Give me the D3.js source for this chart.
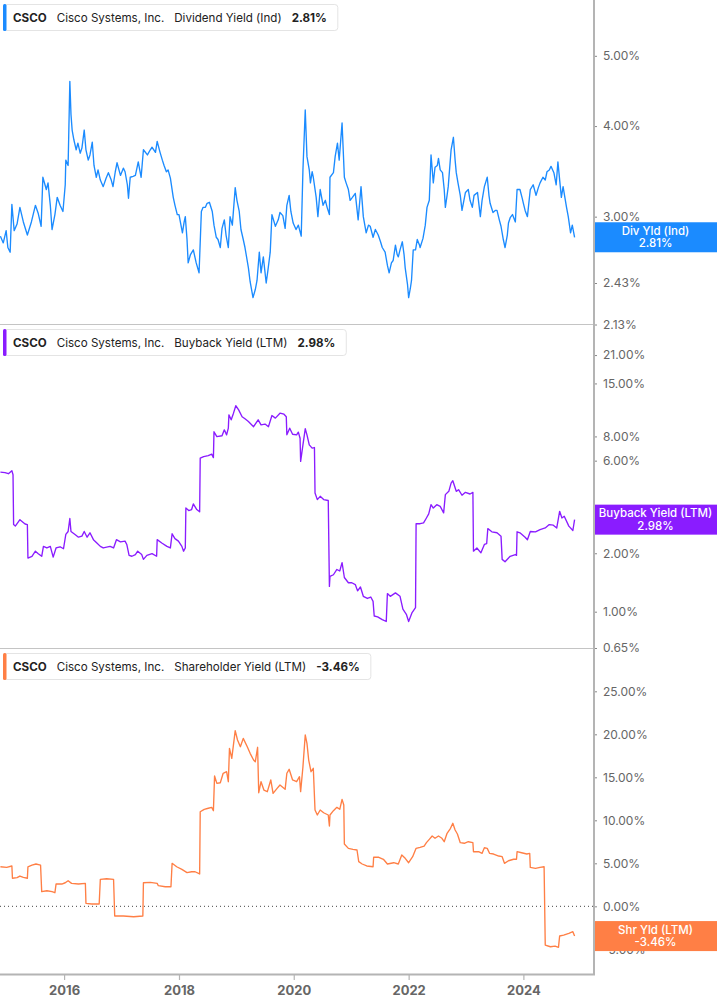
<!DOCTYPE html>
<html>
<head>
<meta charset="utf-8">
<script src="https://cdn.jsdelivr.net/npm/d3@7"></script>
<style>
  body { margin: 0; background: #fff; }
  svg { display: block; font-family: Inter, "Noto Sans", sans-serif; }
</style>
</head>
<body>
<div id="chart"></div>
<script>
const width = 717;
const height = 1005;
const axisX = 594;

// x domain in decimal years
const xStart = 2014.883;
const xEnd = 2025.228;
const yearTicks = [2016, 2018, 2020, 2022, 2024];

// [decimal year, dividend yield %]
const divYield = [
  [2014.89, 2.82], [2014.94, 2.76], [2014.99, 2.87], [2015.02, 2.72], [2015.06, 2.68], [2015.09, 3.12],
  [2015.13, 2.87], [2015.18, 2.93], [2015.23, 3.09], [2015.29, 2.95], [2015.36, 2.83], [2015.43, 2.95],
  [2015.50, 3.11], [2015.55, 3.03], [2015.60, 2.91], [2015.63, 3.40], [2015.69, 3.27], [2015.72, 3.34],
  [2015.76, 3.11], [2015.79, 2.88], [2015.84, 3.02], [2015.88, 3.19], [2015.93, 3.11], [2015.98, 3.05],
  [2016.02, 3.32], [2016.03, 3.59], [2016.07, 3.53], [2016.10, 4.61], [2016.12, 4.15], [2016.14, 3.95],
  [2016.17, 3.83], [2016.21, 3.71], [2016.24, 3.79], [2016.28, 3.67], [2016.31, 3.73], [2016.35, 3.95],
  [2016.38, 3.71], [2016.42, 3.59], [2016.45, 3.65], [2016.49, 3.80], [2016.52, 3.53], [2016.56, 3.40],
  [2016.59, 3.48], [2016.63, 3.37], [2016.68, 3.30], [2016.73, 3.39], [2016.77, 3.45], [2016.82, 3.37],
  [2016.85, 3.30], [2016.89, 3.46], [2016.92, 3.56], [2016.98, 3.42], [2017.03, 3.50], [2017.06, 3.46],
  [2017.10, 3.32], [2017.12, 3.18], [2017.15, 3.40], [2017.20, 3.41], [2017.24, 3.42], [2017.29, 3.57],
  [2017.34, 3.40], [2017.38, 3.71], [2017.45, 3.65], [2017.50, 3.71], [2017.53, 3.74], [2017.59, 3.68],
  [2017.62, 3.81], [2017.67, 3.68], [2017.71, 3.59], [2017.74, 3.53], [2017.78, 3.46], [2017.81, 3.48],
  [2017.85, 3.39], [2017.90, 3.19], [2017.93, 3.11], [2017.97, 3.02], [2018.00, 3.02], [2018.06, 2.85],
  [2018.09, 2.95], [2018.11, 3.00], [2018.14, 2.79], [2018.16, 2.59], [2018.20, 2.66], [2018.25, 2.70],
  [2018.30, 2.59], [2018.35, 2.51], [2018.39, 3.05], [2018.42, 3.09], [2018.46, 3.09], [2018.49, 3.13],
  [2018.53, 3.14], [2018.58, 3.05], [2018.61, 2.92], [2018.65, 2.81], [2018.68, 2.79], [2018.72, 2.72],
  [2018.75, 2.89], [2018.79, 2.97], [2018.82, 2.83], [2018.86, 2.72], [2018.89, 3.00], [2018.93, 2.92],
  [2018.98, 3.29], [2019.01, 3.16], [2019.05, 3.05], [2019.08, 2.88], [2019.12, 2.79], [2019.15, 2.72],
  [2019.21, 2.55], [2019.24, 2.44], [2019.29, 2.32], [2019.33, 2.38], [2019.36, 2.45], [2019.40, 2.68],
  [2019.43, 2.51], [2019.47, 2.64], [2019.52, 2.43], [2019.55, 2.53], [2019.59, 2.68], [2019.62, 3.02],
  [2019.68, 2.91], [2019.73, 2.97], [2019.76, 3.04], [2019.81, 3.01], [2019.85, 2.89], [2019.88, 3.11],
  [2019.92, 3.21], [2019.95, 3.05], [2019.99, 2.94], [2020.04, 2.88], [2020.08, 2.92], [2020.13, 2.82],
  [2020.16, 3.48], [2020.20, 4.21], [2020.23, 3.63], [2020.27, 3.48], [2020.29, 3.34], [2020.32, 3.46],
  [2020.34, 3.40], [2020.39, 3.19], [2020.42, 3.00], [2020.46, 3.27], [2020.51, 3.11], [2020.55, 3.16],
  [2020.58, 3.09], [2020.62, 3.02], [2020.63, 3.40], [2020.69, 3.45], [2020.72, 3.63], [2020.76, 3.79],
  [2020.79, 3.59], [2020.84, 4.04], [2020.88, 3.40], [2020.91, 3.34], [2020.95, 3.27], [2020.98, 3.16],
  [2021.02, 3.19], [2021.07, 3.23], [2021.12, 2.97], [2021.17, 3.30], [2021.21, 3.00], [2021.26, 2.85],
  [2021.30, 2.92], [2021.33, 2.91], [2021.38, 2.81], [2021.42, 2.88], [2021.47, 2.83], [2021.51, 2.77],
  [2021.54, 2.72], [2021.59, 2.68], [2021.63, 2.57], [2021.66, 2.51], [2021.70, 2.59], [2021.73, 2.61],
  [2021.77, 2.74], [2021.80, 2.66], [2021.82, 2.64], [2021.85, 2.70], [2021.89, 2.77], [2021.92, 2.66],
  [2021.94, 2.55], [2021.98, 2.42], [2022.00, 2.32], [2022.03, 2.39], [2022.05, 2.45], [2022.08, 2.70],
  [2022.12, 2.70], [2022.15, 2.79], [2022.19, 2.74], [2022.20, 2.72], [2022.25, 2.80], [2022.29, 2.92],
  [2022.32, 3.09], [2022.36, 3.16], [2022.39, 3.65], [2022.43, 3.34], [2022.46, 3.51], [2022.50, 3.53],
  [2022.52, 3.61], [2022.55, 3.48], [2022.59, 3.45], [2022.62, 3.27], [2022.64, 3.09], [2022.67, 3.21],
  [2022.69, 3.30], [2022.74, 3.71], [2022.78, 3.86], [2022.81, 3.59], [2022.83, 3.45], [2022.86, 3.34],
  [2022.90, 3.21], [2022.93, 3.06], [2022.99, 3.24], [2023.04, 3.27], [2023.07, 3.16], [2023.11, 3.09],
  [2023.14, 3.21], [2023.20, 3.24], [2023.25, 3.00], [2023.28, 3.16], [2023.32, 3.30], [2023.37, 3.40],
  [2023.40, 3.21], [2023.42, 3.13], [2023.47, 3.04], [2023.51, 3.06], [2023.54, 3.06], [2023.58, 2.97],
  [2023.61, 2.91], [2023.65, 2.79], [2023.68, 2.72], [2023.72, 2.83], [2023.74, 2.94], [2023.77, 2.99],
  [2023.81, 3.02], [2023.86, 2.95], [2023.89, 3.27], [2023.94, 3.27], [2023.98, 3.18], [2024.00, 3.13],
  [2024.03, 3.06], [2024.07, 3.00], [2024.12, 3.27], [2024.17, 3.32], [2024.22, 3.21], [2024.26, 3.29],
  [2024.29, 3.34], [2024.34, 3.40], [2024.38, 3.37], [2024.41, 3.46], [2024.45, 3.48], [2024.48, 3.52],
  [2024.53, 3.45], [2024.57, 3.32], [2024.60, 3.57], [2024.66, 3.19], [2024.69, 3.30], [2024.75, 3.09],
  [2024.78, 3.00], [2024.82, 2.85], [2024.85, 2.92], [2024.89, 2.81]
];

// [decimal year, buyback yield %]
const buybackYield = [
  [2014.89, 5.24], [2014.97, 5.21], [2015.03, 5.14], [2015.09, 5.33], [2015.11, 5.08], [2015.12, 2.81],
  [2015.15, 2.76], [2015.23, 2.98], [2015.32, 2.83], [2015.36, 2.81], [2015.37, 1.89], [2015.44, 1.93],
  [2015.50, 2.05], [2015.55, 1.99], [2015.61, 1.93], [2015.64, 2.17], [2015.70, 2.13], [2015.76, 2.17],
  [2015.81, 1.91], [2015.86, 2.13], [2015.93, 2.16], [2015.99, 2.11], [2016.03, 2.50], [2016.07, 2.59],
  [2016.10, 3.02], [2016.12, 2.59], [2016.19, 2.50], [2016.25, 2.42], [2016.31, 2.45], [2016.35, 2.59],
  [2016.40, 2.42], [2016.45, 2.55], [2016.51, 2.35], [2016.57, 2.26], [2016.63, 2.17], [2016.68, 2.13],
  [2016.74, 2.15], [2016.80, 2.17], [2016.86, 2.13], [2016.91, 2.35], [2016.98, 2.29], [2017.06, 2.31],
  [2017.09, 2.22], [2017.13, 1.95], [2017.18, 1.93], [2017.24, 1.97], [2017.28, 2.05], [2017.35, 1.97],
  [2017.38, 1.86], [2017.44, 1.95], [2017.53, 1.99], [2017.61, 1.93], [2017.62, 2.35], [2017.70, 2.26],
  [2017.79, 2.17], [2017.85, 2.13], [2017.88, 2.52], [2017.93, 2.38], [2017.99, 2.31], [2018.05, 2.17],
  [2018.08, 2.05], [2018.11, 2.13], [2018.12, 3.42], [2018.17, 3.32], [2018.22, 3.36], [2018.25, 3.59],
  [2018.31, 3.36], [2018.36, 3.27], [2018.37, 6.18], [2018.43, 6.30], [2018.51, 6.37], [2018.57, 6.48],
  [2018.60, 6.22], [2018.61, 8.45], [2018.66, 7.98], [2018.75, 8.06], [2018.79, 8.65], [2018.83, 8.15],
  [2018.86, 8.82], [2018.87, 10.33], [2018.91, 9.74], [2018.95, 10.54], [2018.99, 11.51], [2019.04, 10.96],
  [2019.10, 10.11], [2019.15, 9.86], [2019.21, 9.54], [2019.30, 8.98], [2019.38, 9.74], [2019.43, 9.18],
  [2019.50, 9.26], [2019.56, 8.98], [2019.62, 10.25], [2019.68, 9.94], [2019.76, 10.54], [2019.83, 10.41],
  [2019.87, 10.11], [2019.88, 8.15], [2019.93, 8.82], [2019.98, 8.21], [2020.05, 8.15], [2020.08, 8.42],
  [2020.11, 7.83], [2020.12, 5.95], [2020.16, 7.24], [2020.20, 8.76], [2020.23, 8.15], [2020.27, 7.24],
  [2020.32, 6.96], [2020.36, 7.01], [2020.37, 4.09], [2020.41, 3.78], [2020.46, 3.93], [2020.52, 3.78],
  [2020.60, 3.74], [2020.62, 1.35], [2020.63, 1.52], [2020.69, 1.55], [2020.75, 1.65], [2020.80, 1.62],
  [2020.84, 1.79], [2020.88, 1.50], [2020.95, 1.41], [2021.01, 1.41], [2021.07, 1.38], [2021.11, 1.28],
  [2021.16, 1.34], [2021.21, 1.20], [2021.28, 1.17], [2021.34, 1.19], [2021.38, 1.13], [2021.40, 0.95],
  [2021.46, 0.94], [2021.54, 0.91], [2021.61, 0.89], [2021.63, 1.24], [2021.68, 1.20], [2021.77, 1.25],
  [2021.85, 1.20], [2021.90, 1.03], [2021.96, 0.97], [2022.00, 0.89], [2022.06, 0.99], [2022.12, 1.05],
  [2022.13, 2.84], [2022.20, 2.84], [2022.26, 2.87], [2022.31, 3.04], [2022.35, 3.19], [2022.39, 3.56],
  [2022.43, 3.42], [2022.49, 3.56], [2022.55, 3.49], [2022.61, 3.23], [2022.64, 4.01], [2022.70, 4.17],
  [2022.74, 4.60], [2022.77, 4.73], [2022.83, 4.17], [2022.87, 4.25], [2022.93, 3.98], [2022.99, 4.12],
  [2023.07, 4.04], [2023.12, 4.12], [2023.13, 2.05], [2023.19, 2.13], [2023.26, 2.01], [2023.32, 2.22],
  [2023.36, 2.24], [2023.38, 2.68], [2023.45, 2.58], [2023.54, 2.55], [2023.61, 2.45], [2023.63, 1.86],
  [2023.68, 1.81], [2023.77, 1.93], [2023.86, 1.97], [2023.88, 1.95], [2023.89, 2.58], [2023.94, 2.55],
  [2024.03, 2.42], [2024.07, 2.35], [2024.12, 2.59], [2024.21, 2.58], [2024.29, 2.65], [2024.38, 2.70],
  [2024.45, 2.81], [2024.52, 2.79], [2024.58, 2.70], [2024.63, 3.29], [2024.67, 3.04], [2024.71, 3.10],
  [2024.79, 2.76], [2024.86, 2.62], [2024.89, 2.98]
];

// [decimal year, shareholder yield %]
const shareholderYield = [
  [2014.89, 4.60], [2015.00, 4.53], [2015.09, 4.69], [2015.10, 3.26], [2015.18, 3.33], [2015.23, 3.52],
  [2015.29, 3.37], [2015.36, 3.26], [2015.37, 4.60], [2015.44, 4.80], [2015.51, 4.92], [2015.59, 4.80],
  [2015.61, 1.70], [2015.70, 1.81], [2015.79, 1.70], [2015.84, 1.58], [2015.86, 2.59], [2015.96, 2.59],
  [2016.02, 2.74], [2016.07, 2.98], [2016.13, 2.67], [2016.25, 2.59], [2016.37, 2.67], [2016.38, 0.35],
  [2016.48, 0.27], [2016.61, 0.27], [2016.63, 3.14], [2016.74, 3.21], [2016.86, 3.14], [2016.88, -1.13],
  [2017.03, -1.13], [2017.21, -1.21], [2017.37, -1.13], [2017.38, 2.74], [2017.50, 2.79], [2017.62, 2.67],
  [2017.64, 2.40], [2017.76, 2.28], [2017.86, 2.28], [2017.88, 5.00], [2017.96, 4.60], [2018.05, 4.30],
  [2018.14, 3.91], [2018.22, 4.02], [2018.28, 4.02], [2018.36, 3.76], [2018.37, 11.00], [2018.44, 11.28],
  [2018.51, 11.40], [2018.57, 11.51], [2018.60, 11.12], [2018.62, 15.15], [2018.66, 14.30], [2018.72, 14.37],
  [2018.77, 15.47], [2018.83, 15.65], [2018.86, 14.49], [2018.88, 18.37], [2018.92, 17.21], [2018.98, 20.42],
  [2019.02, 19.34], [2019.07, 18.56], [2019.12, 19.53], [2019.19, 18.56], [2019.24, 17.79], [2019.30, 17.01],
  [2019.33, 16.81], [2019.37, 18.49], [2019.39, 13.21], [2019.43, 14.49], [2019.48, 13.52], [2019.54, 13.33],
  [2019.60, 14.69], [2019.64, 13.14], [2019.71, 13.72], [2019.76, 14.10], [2019.85, 13.60], [2019.88, 15.47],
  [2019.92, 15.93], [2019.98, 14.69], [2020.05, 14.49], [2020.10, 15.07], [2020.12, 13.33], [2020.16, 16.23],
  [2020.20, 19.92], [2020.23, 18.95], [2020.26, 17.01], [2020.30, 15.65], [2020.34, 16.05], [2020.37, 11.20],
  [2020.41, 10.62], [2020.46, 11.20], [2020.52, 10.88], [2020.60, 10.62], [2020.62, 9.34], [2020.63, 10.62],
  [2020.69, 11.12], [2020.75, 11.51], [2020.80, 11.28], [2020.84, 12.44], [2020.87, 11.78], [2020.88, 7.24],
  [2020.95, 6.74], [2021.03, 6.63], [2021.10, 6.55], [2021.13, 5.19], [2021.19, 4.92], [2021.27, 4.69],
  [2021.38, 4.60], [2021.39, 5.70], [2021.48, 5.70], [2021.56, 5.47], [2021.63, 4.92], [2021.74, 5.07],
  [2021.82, 4.92], [2021.88, 5.97], [2021.94, 5.58], [2022.00, 5.07], [2022.07, 5.77], [2022.13, 6.74],
  [2022.20, 6.86], [2022.27, 7.01], [2022.31, 7.40], [2022.36, 7.79], [2022.41, 8.17], [2022.46, 7.91],
  [2022.52, 8.17], [2022.58, 7.91], [2022.62, 7.51], [2022.67, 8.49], [2022.73, 9.07], [2022.77, 9.65],
  [2022.81, 8.87], [2022.85, 8.41], [2022.90, 7.40], [2022.97, 7.33], [2023.04, 7.51], [2023.12, 7.40],
  [2023.13, 6.35], [2023.22, 6.35], [2023.28, 6.16], [2023.32, 6.81], [2023.37, 6.74], [2023.41, 6.16],
  [2023.48, 6.08], [2023.57, 5.85], [2023.63, 5.77], [2023.67, 5.00], [2023.74, 5.30], [2023.83, 5.47],
  [2023.88, 5.47], [2023.89, 6.35], [2023.97, 6.23], [2024.06, 6.08], [2024.11, 6.16], [2024.12, 4.53],
  [2024.21, 4.42], [2024.29, 4.53], [2024.36, 4.60], [2024.38, -4.50], [2024.47, -4.70], [2024.55, -4.62],
  [2024.61, -4.77], [2024.63, -3.45], [2024.70, -3.34], [2024.79, -3.14], [2024.86, -2.95], [2024.89, -3.46]
];

const divTicks = [2.13, 2.43, 3, 4, 5];
const buybackTicks = [0.65, 1, 2, 3, 6, 8, 15, 21];
const shareholderTicks = [-5, 0, 5, 10, 15, 20, 25];

function toDate(yr) {
  const y0 = Math.floor(yr);
  const a = Date.UTC(y0, 0, 1), b = Date.UTC(y0 + 1, 0, 1);
  return new Date(a + (yr - y0) * (b - a));
}

const svg = d3.select("#chart").append("svg")
  .attr("width", width)
  .attr("height", height);

const x = d3.scaleUtc()
  .domain([toDate(xStart), toDate(xEnd)])
  .range([0, axisX]);

const panels = [
  {
    id: "div", top: 0, bottom: 324.5, data: divYield, ticks: divTicks,
    y: d3.scaleLog().domain([2.13, 5.97]).range([324.5, 0]),
    color: "#1b8bff", metric: "Dividend Yield (Ind)", badge: "Div Yld (Ind)"
  },
  {
    id: "buy", top: 325, bottom: 648, data: buybackYield, ticks: buybackTicks,
    y: d3.scaleLog().domain([0.65, 30]).range([648, 325]),
    color: "#8a1cff", metric: "Buyback Yield (LTM)", badge: "Buyback Yield (LTM)"
  },
  {
    id: "shr", top: 649, bottom: 974, data: shareholderYield, ticks: shareholderTicks,
    y: d3.scaleLinear().domain([-7.87, 29.92]).range([974, 649]),
    color: "#ff7f45", metric: "Shareholder Yield (LTM)", badge: "Shr Yld (LTM)", zeroLine: true
  }
];

// plain hyphen for negatives, like the source chart
const locale = d3.formatLocale({ decimal: ".", thousands: ",", grouping: [3], currency: ["$", ""], minus: "-" });
const fmt = locale.format(".2f");

panels.forEach(p => {
  const clipId = "clip-" + p.id;
  svg.append("clipPath").attr("id", clipId)
    .append("rect")
    .attr("x", 0).attr("y", p.top)
    .attr("width", axisX).attr("height", p.bottom - p.top);

  // right axis ticks + labels
  const ax = svg.append("g")
    .attr("transform", "translate(" + axisX + ",0)")
    .call(d3.axisRight(p.y).tickValues(p.ticks).tickSize(3).tickPadding(6)
      .tickFormat(d => fmt(d) + "%"));
  ax.select(".domain").remove();
  ax.selectAll(".tick line").attr("stroke", "#888");
  ax.selectAll(".tick text")
    .attr("fill", "#666")
    .style("font-size", "12px")
    .style("font-family", "Inter, sans-serif");

  const g = svg.append("g").attr("clip-path", "url(#" + clipId + ")");

  if (p.zeroLine) {
    g.append("line")
      .attr("x1", 0).attr("x2", axisX)
      .attr("y1", p.y(0)).attr("y2", p.y(0))
      .attr("stroke", "#444")
      .attr("stroke-width", 1)
      .attr("stroke-dasharray", "1,3");
  }

  const line = d3.line()
    .x(d => x(toDate(d[0])))
    .y(d => p.y(d[1]));

  g.append("path")
    .datum(p.data)
    .attr("fill", "none")
    .attr("stroke", p.color)
    .attr("stroke-width", 1.35)
    .attr("stroke-linejoin", "round")
    .attr("d", line);

  // legend box
  const last = p.data[p.data.length - 1][1];
  const lg = svg.append("g");
  const ly = p.top + 4;
  const box = lg.append("rect")
    .attr("x", 3.5).attr("y", ly + 0.5)
    .attr("height", 26).attr("rx", 3)
    .attr("fill", "#fff")
    .attr("stroke", "#e4e4e4");
  lg.append("rect")
    .attr("x", 3).attr("y", ly)
    .attr("width", 3.5).attr("height", 27)
    .attr("rx", 1.5)
    .attr("fill", p.color);
  const parts = [
    { t: "CSCO", bold: true },
    { t: "Cisco Systems, Inc.", bold: false },
    { t: p.metric, bold: false },
    { t: fmt(last) + "%", bold: true }
  ];
  let tx = 13;
  parts.forEach(part => {
    const t = lg.append("text")
      .attr("x", tx).attr("y", ly + 17.5)
      .attr("fill", "#222")
      .style("font-size", "11.6px")
      .style("font-weight", part.bold ? 700 : 400)
      .text(part.t);
    tx += t.node().getComputedTextLength() + 10;
  });
  box.attr("width", tx - 10 + 11 - 3.5);

  // last value badge
  const by = p.y(last);
  const bg = svg.append("g");
  bg.append("rect")
    .attr("x", axisX).attr("y", by - 15)
    .attr("width", width - axisX).attr("height", 30)
    .attr("fill", p.color);
  bg.append("text")
    .attr("x", (axisX + width) / 2).attr("y", by - 2.5)
    .attr("text-anchor", "middle")
    .attr("fill", "#fff")
    .style("font-size", "11.5px")
    .style("font-weight", 500)
    .text(p.badge);
  bg.append("text")
    .attr("x", (axisX + width) / 2).attr("y", by + 10)
    .attr("text-anchor", "middle")
    .attr("fill", "#fff")
    .style("font-size", "11.5px")
    .style("font-weight", 500)
    .text(fmt(last) + "%");
});

// panel separators
[324.5, 648.5].forEach(yy => {
  svg.append("line")
    .attr("x1", 0).attr("x2", axisX)
    .attr("y1", yy).attr("y2", yy)
    .attr("stroke", "#c4c4c4").attr("stroke-width", 1);
});

// right axis line
svg.append("line")
  .attr("x1", axisX).attr("x2", axisX)
  .attr("y1", 0).attr("y2", 974.5)
  .attr("stroke", "#b4b4b4").attr("stroke-width", 2);

// bottom time axis
const xa = svg.append("g")
  .attr("transform", "translate(0,974)")
  .call(d3.axisBottom(x)
    .tickValues(yearTicks.map(toDate))
    .tickSize(6).tickPadding(6)
    .tickFormat(d3.utcFormat("%Y")));
xa.select(".domain")
  .attr("d", "M0,0.5H" + (axisX + 1))
  .attr("stroke", "#b4b4b4").attr("stroke-width", 2);
xa.selectAll(".tick line").attr("stroke", "#b4b4b4").attr("stroke-width", 1.2);
xa.selectAll(".tick text")
  .attr("fill", "#666")
  .style("font-size", "13px")
  .style("font-weight", 700)
  .style("font-family", "Inter, sans-serif");
</script>
</body>
</html>
